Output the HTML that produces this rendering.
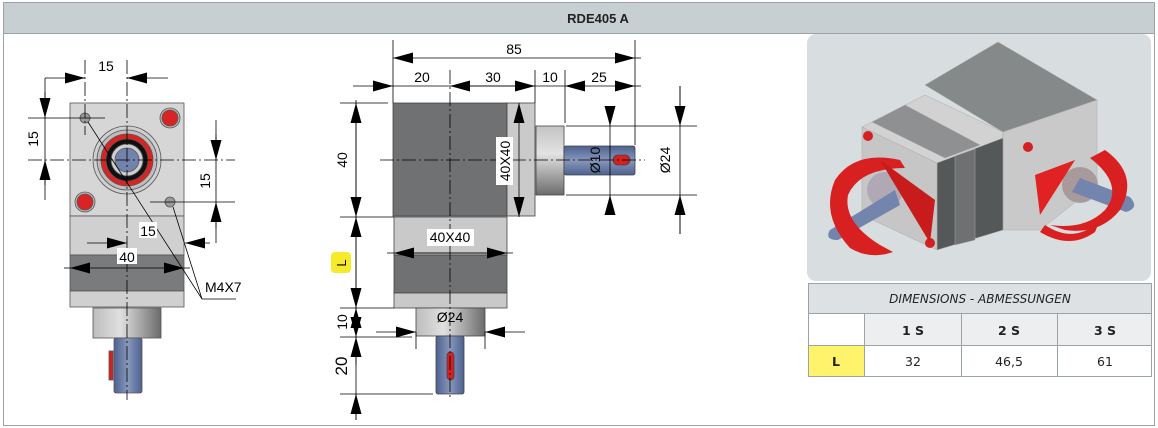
<!DOCTYPE html>
<html><head><meta charset="utf-8"><style>
html,body{margin:0;padding:0;background:#fff;}
svg{display:block;font-family:"Liberation Sans",Arial,sans-serif;}
</style></head><body>
<svg width="1158" height="428" viewBox="0 0 1158 428" xmlns="http://www.w3.org/2000/svg">
<defs>
<marker id="a" viewBox="0 0 10 10" refX="10" refY="5" markerWidth="20" markerHeight="11" orient="auto-start-reverse" markerUnits="userSpaceOnUse" preserveAspectRatio="none"><path d="M0,0 L10,5 L0,10z" fill="#000"/></marker>
<linearGradient id="boss" x1="0" x2="1"><stop offset="0" stop-color="#bdbdbd"/><stop offset="0.4" stop-color="#e0e0e0"/><stop offset="1" stop-color="#6c6c6c"/></linearGradient>
<linearGradient id="bossv" x1="0" y1="0" x2="0" y2="1"><stop offset="0" stop-color="#c4c4c4"/><stop offset="0.4" stop-color="#e2e2e2"/><stop offset="1" stop-color="#6c6c6c"/></linearGradient>
<linearGradient id="sh" x1="0" x2="1"><stop offset="0" stop-color="#4d6190"/><stop offset="0.5" stop-color="#8898bb"/><stop offset="1" stop-color="#4d6190"/></linearGradient>
<linearGradient id="shv" x1="0" y1="0" x2="0" y2="1"><stop offset="0" stop-color="#4d6190"/><stop offset="0.5" stop-color="#8898bb"/><stop offset="1" stop-color="#4d6190"/></linearGradient>
</defs>
<rect x="3.5" y="2.5" width="1151" height="423" fill="#fff" stroke="#9aa3a8"/>
<rect x="4" y="3" width="1150" height="30" fill="#c8cfd3"/>
<line x1="3" y1="33.5" x2="1155" y2="33.5" stroke="#9aa3a8"/>
<text x="598" y="23" font-size="13" font-weight="bold" text-anchor="middle" fill="#222">RDE405 A</text>

<!-- LEFT VIEW -->
<g stroke="#555" stroke-width="0.8">
<rect x="70" y="103" width="114" height="113" fill="#d6d6d6"/>
<rect x="70" y="216" width="114" height="39" fill="#d0d0d0"/>
<rect x="70" y="255" width="114" height="36" fill="#7a7b7c"/>
<rect x="70" y="291" width="114" height="16" fill="#d0d0d0"/>
<rect x="93" y="308" width="68" height="30" fill="url(#boss)"/>
<rect x="114" y="338" width="28" height="55" fill="url(#sh)" rx="2"/>
<rect x="109" y="351" width="4" height="29" fill="#d42020"/>
<circle cx="127" cy="160" r="34" fill="#cfcfcf"/>
<circle cx="127" cy="160" r="30" fill="#bdbdbd"/>
<circle cx="127" cy="160" r="26" fill="#d82424"/>
<circle cx="127" cy="160" r="21" fill="#111"/>
<circle cx="127" cy="160" r="16" fill="#cfcfcf"/>
<circle cx="127" cy="160" r="12" fill="#7183ad"/>
<circle cx="85" cy="118" r="5" fill="#9a9a9a"/>
<circle cx="170" cy="202" r="5" fill="#9a9a9a"/>
<circle cx="170" cy="118" r="10" fill="#bbb"/><circle cx="170" cy="118" r="8" fill="#d82424"/>
<circle cx="85" cy="202" r="10" fill="#bbb"/><circle cx="85" cy="202" r="8" fill="#d82424"/>
</g>
<g stroke="#000" stroke-width="0.8" fill="none">
<line x1="127" y1="60" x2="127" y2="400" stroke-dasharray="14,3,2,3"/>
<line x1="28" y1="160" x2="235" y2="160" stroke-dasharray="14,3,2,3"/>
<line x1="85" y1="60" x2="85" y2="135" stroke-dasharray="14,3,2,3"/>
<line x1="28" y1="118" x2="105" y2="118"/>
<line x1="150" y1="202" x2="235" y2="202"/>
<line x1="45" y1="78" x2="85" y2="78" marker-end="url(#a)"/>
<line x1="168" y1="78" x2="127" y2="78" marker-end="url(#a)"/>
<line x1="45" y1="78" x2="45" y2="200"/>
<line x1="45" y1="92" x2="45" y2="118" marker-end="url(#a)"/>
<line x1="45" y1="185" x2="45" y2="160" marker-end="url(#a)"/>
<line x1="216" y1="120" x2="216" y2="243"/>
<line x1="216" y1="135" x2="216" y2="160" marker-end="url(#a)"/>
<line x1="216" y1="228" x2="216" y2="202" marker-end="url(#a)"/>
<line x1="87" y1="243" x2="127" y2="243" marker-end="url(#a)"/>
<line x1="210" y1="243" x2="185" y2="243" marker-end="url(#a)"/>
<line x1="64" y1="268" x2="70" y2="268"/>
<line x1="127" y1="268" x2="70" y2="268" marker-end="url(#a)"/>
<line x1="127" y1="268" x2="184" y2="268" marker-end="url(#a)"/>
<line x1="184" y1="268" x2="190" y2="268"/>
<polyline points="236,299 202,299 88,122"/>
<line x1="202" y1="299" x2="173" y2="207"/>
</g>
<g font-size="14" fill="#000">
<text x="106" y="71" text-anchor="middle">15</text>
<text transform="translate(38,139) rotate(-90)" text-anchor="middle">15</text>
<text transform="translate(210,181) rotate(-90)" text-anchor="middle">15</text>
<rect x="139" y="222" width="18" height="16" fill="#fff"/>
<text x="148" y="236" text-anchor="middle">15</text>
<rect x="117" y="248" width="20" height="16" fill="#fff"/>
<text x="127" y="262" text-anchor="middle">40</text>
<text x="205" y="292">M4X7</text>
</g>

<!-- MIDDLE VIEW -->
<g stroke="#444" stroke-width="0.8">
<rect x="393" y="103" width="114" height="113" fill="#6f7173"/>
<rect x="507" y="103" width="28" height="113" fill="#cacaca"/>
<rect x="394" y="217" width="113" height="38" fill="#c9c9c9"/>
<rect x="394" y="255" width="113" height="38" fill="#6f7173"/>
<rect x="394" y="293" width="113" height="15" fill="#c9c9c9"/>
<rect x="536" y="126" width="28" height="69" fill="url(#bossv)"/>
<rect x="564" y="146" width="71" height="29" fill="url(#shv)" rx="2"/>
<rect x="613" y="155" width="17" height="10" rx="5" fill="#d42020"/>
<rect x="416" y="308" width="69" height="28" fill="url(#boss)"/>
<rect x="436" y="336" width="28" height="58" fill="url(#sh)" rx="2"/>
<rect x="447" y="352" width="7" height="28" rx="3.5" fill="#d42020"/>
</g>
<g stroke="#000" stroke-width="0.8" fill="none">
<line x1="380" y1="160" x2="645" y2="160" stroke-dasharray="14,3,2,3"/>
<line x1="450" y1="70" x2="450" y2="400" stroke-dasharray="14,3,2,3"/>
<line x1="393" y1="40" x2="393" y2="103"/>
<line x1="635" y1="40" x2="635" y2="145"/>
<line x1="535" y1="70" x2="535" y2="103"/>
<line x1="565" y1="70" x2="565" y2="123"/>
<line x1="514" y1="58" x2="393" y2="58" marker-end="url(#a)"/>
<line x1="514" y1="58" x2="635" y2="58" marker-end="url(#a)"/>
<line x1="635" y1="58" x2="641" y2="58"/>
<line x1="353" y1="86" x2="393" y2="86" marker-end="url(#a)"/>
<line x1="393" y1="86" x2="565" y2="86"/>
<line x1="500" y1="86" x2="450" y2="86" marker-end="url(#a)"/>
<line x1="500" y1="86" x2="535" y2="86" marker-end="url(#a)"/>
<line x1="600" y1="86" x2="565" y2="86" marker-end="url(#a)"/>
<line x1="600" y1="86" x2="635" y2="86" marker-end="url(#a)"/>
<line x1="635" y1="86" x2="641" y2="86"/>
<line x1="340" y1="103" x2="388" y2="103"/>
<line x1="340" y1="217" x2="394" y2="217"/>
<line x1="340" y1="308" x2="394" y2="308"/>
<line x1="340" y1="337" x2="412" y2="337"/>
<line x1="340" y1="394" x2="433" y2="394"/>
<line x1="356" y1="100" x2="356" y2="420"/>
<line x1="356" y1="160" x2="356" y2="103" marker-end="url(#a)"/>
<line x1="356" y1="160" x2="356" y2="217" marker-end="url(#a)"/>
<line x1="356" y1="262" x2="356" y2="217" marker-end="url(#a)"/>
<line x1="356" y1="262" x2="356" y2="308" marker-end="url(#a)"/>
<line x1="356" y1="322" x2="356" y2="337" marker-end="url(#a)"/>
<line x1="356" y1="322" x2="356" y2="308" marker-end="url(#a)"/>
<line x1="356" y1="365" x2="356" y2="337" marker-end="url(#a)"/>
<line x1="356" y1="420" x2="356" y2="394" marker-end="url(#a)"/>
<line x1="519" y1="160" x2="519" y2="103" marker-end="url(#a)"/>
<line x1="519" y1="160" x2="519" y2="217" marker-end="url(#a)"/>
<line x1="387" y1="253" x2="513" y2="253"/>
<line x1="450" y1="253" x2="394" y2="253" marker-end="url(#a)"/>
<line x1="450" y1="253" x2="507" y2="253" marker-end="url(#a)"/>
<line x1="376" y1="332" x2="416" y2="332" marker-end="url(#a)"/>
<line x1="525" y1="332" x2="485" y2="332" marker-end="url(#a)"/>
<line x1="416" y1="332" x2="416" y2="349"/>
<line x1="485" y1="332" x2="485" y2="349"/>
<line x1="566" y1="126" x2="697" y2="126"/>
<line x1="566" y1="195" x2="697" y2="195"/>
<line x1="610" y1="106" x2="610" y2="213"/>
<line x1="610" y1="106" x2="610" y2="126" marker-end="url(#a)"/>
<line x1="610" y1="213" x2="610" y2="195" marker-end="url(#a)"/>
<line x1="680" y1="86" x2="680" y2="234"/>
<line x1="680" y1="86" x2="680" y2="126" marker-end="url(#a)"/>
<line x1="680" y1="234" x2="680" y2="195" marker-end="url(#a)"/>
</g>
<g font-size="14" fill="#000">
<text x="514" y="54" text-anchor="middle">85</text>
<text x="422" y="82" text-anchor="middle">20</text>
<text x="493" y="82" text-anchor="middle">30</text>
<text x="550" y="82" text-anchor="middle">10</text>
<text x="599" y="82" text-anchor="middle">25</text>
<text transform="translate(347,160) rotate(-90)" text-anchor="middle">40</text>
<text transform="translate(347,322) rotate(-90)" text-anchor="middle">10</text>
<text transform="translate(347,366) rotate(-90)" text-anchor="middle" font-size="17">20</text>
<rect x="496" y="137" width="17" height="48" fill="#fff"/>
<text transform="translate(510,161) rotate(-90)" text-anchor="middle">40X40</text>
<rect x="427" y="229" width="47" height="17" fill="#fff"/>
<text x="450" y="242" text-anchor="middle">40X40</text>
<text x="450" y="322" text-anchor="middle">Ø24</text>
<text transform="translate(600,160) rotate(-90)" text-anchor="middle">Ø10</text>
<text transform="translate(670,160) rotate(-90)" text-anchor="middle">Ø24</text>
<rect x="331" y="252" width="20" height="21" rx="4" fill="#f7ea2a"/>
<text transform="translate(346,263) rotate(-90)" text-anchor="middle" font-size="13">L</text>
</g>

<!-- 3D PANEL -->
<rect x="807" y="34" width="344" height="247" rx="9" fill="#d8dde0"/>
<g stroke="#aaa" stroke-width="0.5">
<polygon points="925,85 998,42 1097,100 1003,132" fill="#86898a"/>
<polygon points="862,127 925,95 1003,132 1003,140 937,163" fill="#d2d2d2"/>
<polygon points="872,122 905,105 980,145 945,158" fill="#8e9091"/>
<polygon points="1003,132 1097,100 1097,185 1040,230 1003,230" fill="#c9c9c9"/>
<polygon points="937,163 1003,138 1003,230 937,250" fill="#555859"/>
<polygon points="862,127 937,163 937,250 862,215" fill="#c6c6c6"/>
<polygon points="955,156 975,149 975,240 955,245" fill="#6e7071"/>
</g>
<circle cx="868" cy="136" r="5" fill="#d42020"/>
<circle cx="1028" cy="147" r="5" fill="#d42020"/>
<circle cx="930" cy="243" r="5" fill="#d42020"/>
<circle cx="885" cy="190" r="18" fill="#b0a8b4"/>
<circle cx="1080" cy="185" r="18" fill="#a89a9a"/>
<path d="M830,230 L895,190 L900,205 L838,240 Q824,240 830,230z" fill="#7385ad"/>
<path d="M1130,197 L1080,178 L1072,192 L1126,212 Q1140,208 1130,197z" fill="#7385ad"/>
<path d="M850,248 Q820,215 835,180 Q855,150 900,160 L905,168 Q860,168 848,195 Q843,222 880,245 L893,252 Q870,260 850,248z" fill="#d82020"/>
<path d="M880,160 L935,200 L930,243 Z" fill="#c81c1c"/>
<path d="M1105,150 Q1140,175 1120,210 Q1100,235 1065,230 L1050,225 Q1085,230 1105,210 Q1125,185 1090,158z" fill="#d82020"/>
<path d="M1075,160 L1040,215 L1035,175 Z" fill="#e02222"/>
<path d="M1045,225 Q1075,245 1100,220 L1095,232 Q1070,250 1040,232z" fill="#d82020"/>

<!-- TABLE -->
<g stroke="#9aa3a8" stroke-width="1">
<rect x="808.5" y="283.5" width="343" height="93" fill="#fff"/>
<rect x="808.5" y="283.5" width="343" height="30" fill="#dde1e4"/>
<rect x="864.5" y="313.5" width="287" height="32" fill="#eceeef"/>
<rect x="808.5" y="345.5" width="56" height="31" fill="#fff36b"/>
<line x1="808" y1="345.5" x2="1152" y2="345.5"/>
<line x1="864.5" y1="313" x2="864.5" y2="377"/>
<line x1="961.5" y1="313" x2="961.5" y2="377"/>
<line x1="1057.5" y1="313" x2="1057.5" y2="377"/>
</g>
<g font-family="'DejaVu Sans','Liberation Sans',sans-serif" font-size="12.5" fill="#222" text-anchor="middle">
<text x="980" y="303" font-style="italic" font-size="12">DIMENSIONS - ABMESSUNGEN</text>
<text x="913" y="335" font-weight="bold">1 S</text>
<text x="1009" y="335" font-weight="bold">2 S</text>
<text x="1105" y="335" font-weight="bold">3 S</text>
<text x="836" y="366" font-weight="bold">L</text>
<text x="913" y="366">32</text>
<text x="1009" y="366">46,5</text>
<text x="1105" y="366">61</text>
</g>
</svg>
</body></html>
